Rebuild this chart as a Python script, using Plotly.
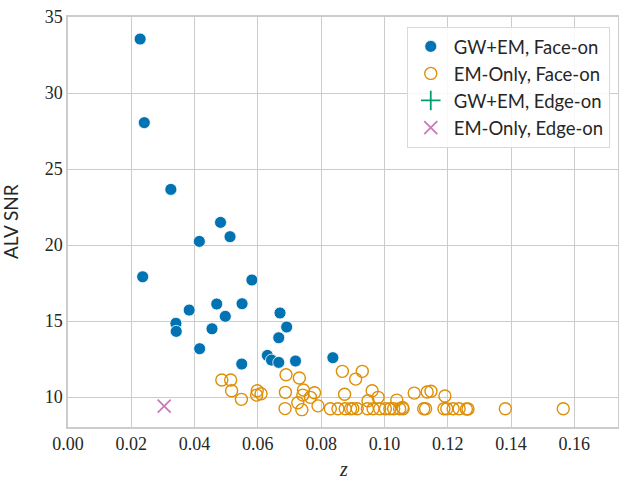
import plotly.graph_objects as go

# GW+EM, Face-on
gw_face_z = [0.0228, 0.0241, 0.0325, 0.0236, 0.0482, 0.0415, 0.0512, 0.0581, 0.0383, 0.0470,
             0.0550, 0.0497, 0.0670, 0.0341, 0.0342, 0.0691, 0.0455, 0.0666, 0.0416, 0.0630,
             0.0643, 0.0666, 0.0719, 0.0549, 0.0837]
gw_face_snr = [33.55, 28.05, 23.66, 17.91, 21.49, 20.24, 20.55, 17.70, 15.72, 16.12,
               16.14, 15.31, 15.53, 14.85, 14.32, 14.61, 14.49, 13.90, 13.18, 12.74,
               12.43, 12.28, 12.37, 12.17, 12.59]

# EM-Only, Face-on
em_face_z = [0.0486, 0.0514, 0.0517, 0.0548, 0.0598, 0.0596, 0.0610, 0.0689, 0.0731, 0.0687,
             0.0686, 0.0744, 0.0742, 0.0726, 0.0739, 0.0766, 0.0779, 0.0790, 0.0867, 0.0874,
             0.0909, 0.0930, 0.0961, 0.0980, 0.0948, 0.1039, 0.1094, 0.1135, 0.1147, 0.1191,
             0.1057, 0.1382, 0.1565,
             0.0829, 0.0853, 0.0876, 0.0893, 0.0900, 0.0914, 0.0946, 0.0964, 0.0985, 0.1003,
             0.1017, 0.1029, 0.1048, 0.1059, 0.1124, 0.1130, 0.1188, 0.1197, 0.1217, 0.1236,
             0.1259, 0.1264]
em_face_snr = [11.12, 11.12, 10.41, 9.85, 10.41, 10.13, 10.22, 11.47, 11.25, 10.31,
               9.24, 10.46, 10.13, 9.63, 9.17, 9.98, 10.28, 9.42, 11.69, 10.18,
               11.18, 11.69, 10.41, 9.98, 9.76, 9.80, 10.26, 10.33, 10.38, 10.07,
               9.32, 9.23, 9.23,
               9.23, 9.23, 9.23, 9.23, 9.24, 9.23, 9.23, 9.23, 9.23, 9.23,
               9.23, 9.23, 9.23, 9.23, 9.23, 9.23, 9.23, 9.23, 9.23, 9.23,
               9.21, 9.21]

# GW+EM, Edge-on (no points visible)
gw_edge_z = [None]
gw_edge_snr = [None]

# EM-Only, Edge-on
em_edge_z = [0.0304]
em_edge_snr = [9.41]

x_ticks = [0.00, 0.02, 0.04, 0.06, 0.08, 0.10, 0.12, 0.14, 0.16]
y_ticks = [10, 15, 20, 25, 30, 35]

fig = go.Figure()
fig.add_trace(go.Scatter(x=gw_face_z, y=gw_face_snr, mode="markers", name="GW+EM, Face-on",
                         marker=dict(symbol="circle", size=12, color="#0173b2",
                                     line=dict(width=0.8, color="white"))))
fig.add_trace(go.Scatter(x=em_face_z, y=em_face_snr, mode="markers", name="EM-Only, Face-on",
                         marker=dict(symbol="circle-open", size=12, color="#de8f05",
                                     line=dict(width=1.4, color="#de8f05"))))
fig.add_trace(go.Scatter(x=gw_edge_z, y=gw_edge_snr, mode="markers", name="GW+EM, Edge-on",
                         marker=dict(symbol="cross-thin-open", size=14, color="#029e73",
                                     line=dict(width=1.8, color="#029e73"))))
fig.add_trace(go.Scatter(x=em_edge_z, y=em_edge_snr, mode="markers", name="EM-Only, Edge-on",
                         marker=dict(symbol="x-thin-open", size=13, color="#cc78bc",
                                     line=dict(width=1.8, color="#cc78bc"))))

axis_common = dict(showgrid=True, gridcolor="#cccccc", gridwidth=1.2, zeroline=False,
                   showline=True, linecolor="#cccccc", linewidth=1.5, mirror=True,
                   automargin=False, ticks="",
                   tickfont=dict(family="Liberation Serif", size=18, color="#262626"))

fig.update_layout(
    width=619, height=482,
    margin=dict(l=68, r=1, t=17, b=55),
    plot_bgcolor="white", paper_bgcolor="white",
    xaxis=dict(range=[0, 0.1738], tickvals=x_ticks, tickformat=".2f", **axis_common),
    yaxis=dict(range=[8.03, 35], tickvals=y_ticks, **axis_common),
    legend=dict(x=0.985, y=0.976, xanchor="right", yanchor="top",
                bgcolor="rgba(255,255,255,0.85)", bordercolor="#d9d9d9", borderwidth=1,
                font=dict(family="Lato", size=18.5, color="#262626"),
                itemwidth=36, tracegroupgap=0),
    showlegend=True,
    annotations=[
        dict(text="<i>z</i>", x=0.5, y=0, xref="paper", yref="paper", xanchor="center",
             yanchor="middle", yshift=-42, showarrow=False,
             font=dict(family="Liberation Serif", size=20, color="#262626")),
        dict(text="ALV SNR", x=0, y=0.5, xref="paper", yref="paper", xanchor="center",
             yanchor="middle", xshift=-58, textangle=-90, showarrow=False,
             font=dict(family="Lato", size=19, color="#262626")),
    ],
)

fig.write_html("out.html", config={"displayModeBar": False},
               post_script="document.body.style.margin='0';")
